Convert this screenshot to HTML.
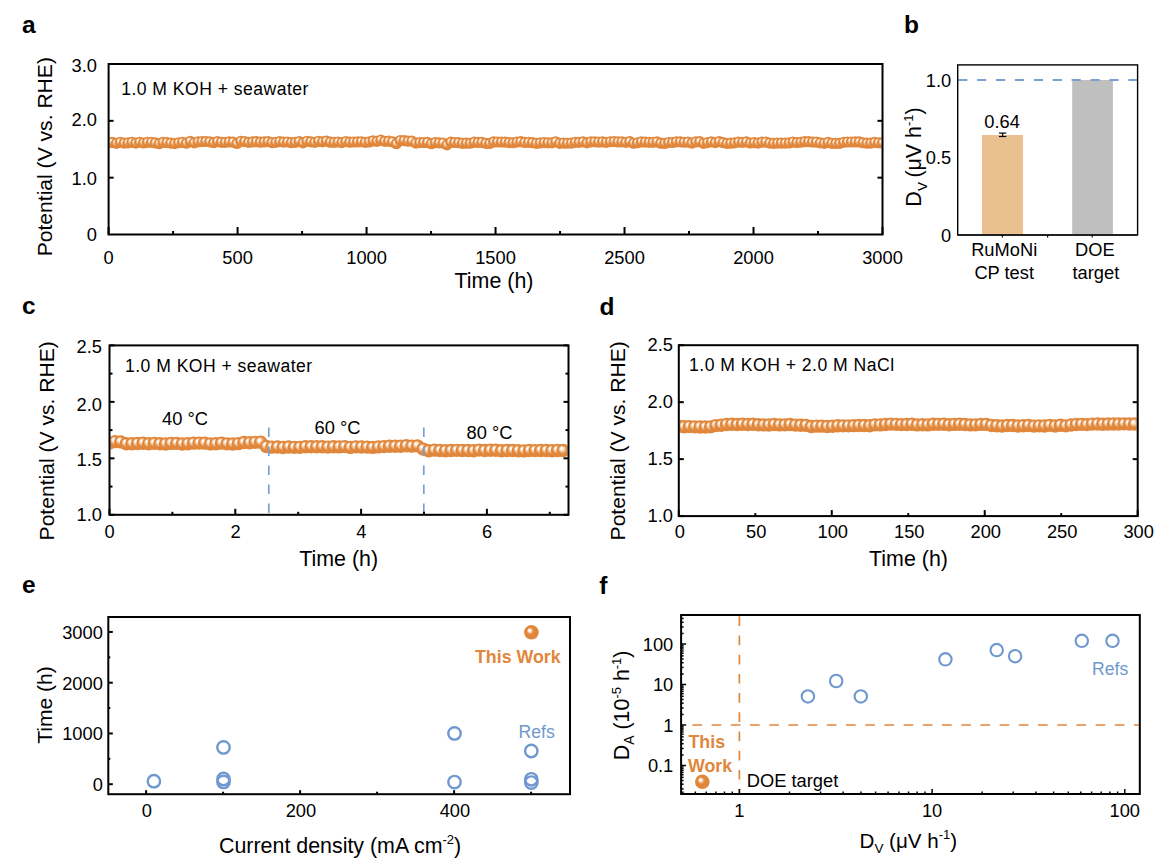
<!DOCTYPE html>
<html><head><meta charset="utf-8"><title>Figure</title>
<style>
html,body{margin:0;padding:0;background:#fff;width:1169px;height:866px;overflow:hidden;}
svg{display:block;font-family:"Liberation Sans", sans-serif;}
</style></head><body>
<svg width="1169" height="866" viewBox="0 0 1169 866">
<rect width="1169" height="866" fill="#fff"/>
<defs><radialGradient id="ball" cx="0.5" cy="0.5" r="0.5" fx="0.37" fy="0.31"><stop offset="0" stop-color="#fff"/><stop offset="0.1" stop-color="#fff"/><stop offset="0.36" stop-color="#f5cfaa"/><stop offset="0.64" stop-color="#E0873C"/><stop offset="1" stop-color="#E0873C"/></radialGradient><radialGradient id="bigball" cx="0.5" cy="0.5" r="0.5" fx="0.35" fy="0.345"><stop offset="0" stop-color="#fff"/><stop offset="0.08" stop-color="#fff"/><stop offset="0.25" stop-color="#f6d8bc"/><stop offset="0.42" stop-color="#e4914d"/><stop offset="0.55" stop-color="#E0873C"/><stop offset="1" stop-color="#E0873C"/></radialGradient></defs>
<clipPath id="cp1"><rect x="109.60" y="64.00" width="771.90" height="170.50"/></clipPath>
<g clip-path="url(#cp1)">
<circle cx="108.60" cy="142.78" r="5.6" fill="url(#ball)"/>
<circle cx="112.49" cy="142.47" r="5.6" fill="url(#ball)"/>
<circle cx="116.38" cy="143.37" r="5.6" fill="url(#ball)"/>
<circle cx="120.27" cy="142.33" r="5.6" fill="url(#ball)"/>
<circle cx="124.16" cy="143.16" r="5.6" fill="url(#ball)"/>
<circle cx="128.04" cy="142.86" r="5.6" fill="url(#ball)"/>
<circle cx="131.93" cy="142.30" r="5.6" fill="url(#ball)"/>
<circle cx="135.82" cy="143.11" r="5.6" fill="url(#ball)"/>
<circle cx="139.71" cy="142.27" r="5.6" fill="url(#ball)"/>
<circle cx="143.60" cy="142.98" r="5.6" fill="url(#ball)"/>
<circle cx="147.49" cy="142.33" r="5.6" fill="url(#ball)"/>
<circle cx="151.38" cy="142.36" r="5.6" fill="url(#ball)"/>
<circle cx="155.27" cy="142.96" r="5.6" fill="url(#ball)"/>
<circle cx="159.16" cy="143.69" r="5.6" fill="url(#ball)"/>
<circle cx="163.05" cy="142.42" r="5.6" fill="url(#ball)"/>
<circle cx="166.93" cy="142.53" r="5.6" fill="url(#ball)"/>
<circle cx="170.82" cy="143.12" r="5.6" fill="url(#ball)"/>
<circle cx="174.71" cy="143.56" r="5.6" fill="url(#ball)"/>
<circle cx="178.60" cy="142.75" r="5.6" fill="url(#ball)"/>
<circle cx="182.49" cy="142.28" r="5.6" fill="url(#ball)"/>
<circle cx="186.38" cy="143.19" r="5.6" fill="url(#ball)"/>
<circle cx="190.27" cy="141.38" r="5.6" fill="url(#ball)"/>
<circle cx="194.16" cy="142.84" r="5.6" fill="url(#ball)"/>
<circle cx="198.05" cy="141.80" r="5.6" fill="url(#ball)"/>
<circle cx="201.93" cy="141.53" r="5.6" fill="url(#ball)"/>
<circle cx="205.82" cy="141.48" r="5.6" fill="url(#ball)"/>
<circle cx="209.71" cy="141.81" r="5.6" fill="url(#ball)"/>
<circle cx="213.60" cy="142.72" r="5.6" fill="url(#ball)"/>
<circle cx="217.49" cy="141.56" r="5.6" fill="url(#ball)"/>
<circle cx="221.38" cy="142.28" r="5.6" fill="url(#ball)"/>
<circle cx="225.27" cy="142.37" r="5.6" fill="url(#ball)"/>
<circle cx="229.16" cy="141.88" r="5.6" fill="url(#ball)"/>
<circle cx="233.05" cy="142.19" r="5.6" fill="url(#ball)"/>
<circle cx="236.94" cy="143.51" r="5.6" fill="url(#ball)"/>
<circle cx="240.82" cy="141.29" r="5.6" fill="url(#ball)"/>
<circle cx="244.71" cy="141.55" r="5.6" fill="url(#ball)"/>
<circle cx="248.60" cy="142.39" r="5.6" fill="url(#ball)"/>
<circle cx="252.49" cy="141.93" r="5.6" fill="url(#ball)"/>
<circle cx="256.38" cy="141.71" r="5.6" fill="url(#ball)"/>
<circle cx="260.27" cy="142.19" r="5.6" fill="url(#ball)"/>
<circle cx="264.16" cy="141.95" r="5.6" fill="url(#ball)"/>
<circle cx="268.05" cy="141.66" r="5.6" fill="url(#ball)"/>
<circle cx="271.94" cy="142.54" r="5.6" fill="url(#ball)"/>
<circle cx="275.82" cy="142.36" r="5.6" fill="url(#ball)"/>
<circle cx="279.71" cy="141.53" r="5.6" fill="url(#ball)"/>
<circle cx="283.60" cy="142.12" r="5.6" fill="url(#ball)"/>
<circle cx="287.49" cy="142.02" r="5.6" fill="url(#ball)"/>
<circle cx="291.38" cy="142.64" r="5.6" fill="url(#ball)"/>
<circle cx="295.27" cy="142.37" r="5.6" fill="url(#ball)"/>
<circle cx="299.16" cy="141.57" r="5.6" fill="url(#ball)"/>
<circle cx="303.05" cy="142.81" r="5.6" fill="url(#ball)"/>
<circle cx="306.94" cy="141.25" r="5.6" fill="url(#ball)"/>
<circle cx="310.83" cy="141.78" r="5.6" fill="url(#ball)"/>
<circle cx="314.71" cy="142.38" r="5.6" fill="url(#ball)"/>
<circle cx="318.60" cy="141.28" r="5.6" fill="url(#ball)"/>
<circle cx="322.49" cy="141.88" r="5.6" fill="url(#ball)"/>
<circle cx="326.38" cy="141.06" r="5.6" fill="url(#ball)"/>
<circle cx="330.27" cy="142.18" r="5.6" fill="url(#ball)"/>
<circle cx="334.16" cy="142.35" r="5.6" fill="url(#ball)"/>
<circle cx="338.05" cy="141.99" r="5.6" fill="url(#ball)"/>
<circle cx="341.94" cy="142.53" r="5.6" fill="url(#ball)"/>
<circle cx="345.83" cy="141.51" r="5.6" fill="url(#ball)"/>
<circle cx="349.71" cy="142.19" r="5.6" fill="url(#ball)"/>
<circle cx="353.60" cy="142.00" r="5.6" fill="url(#ball)"/>
<circle cx="357.49" cy="141.96" r="5.6" fill="url(#ball)"/>
<circle cx="361.38" cy="141.73" r="5.6" fill="url(#ball)"/>
<circle cx="365.27" cy="142.37" r="5.6" fill="url(#ball)"/>
<circle cx="369.16" cy="141.93" r="5.6" fill="url(#ball)"/>
<circle cx="373.05" cy="140.95" r="5.6" fill="url(#ball)"/>
<circle cx="376.94" cy="141.28" r="5.6" fill="url(#ball)"/>
<circle cx="380.83" cy="140.18" r="5.6" fill="url(#ball)"/>
<circle cx="384.72" cy="141.33" r="5.6" fill="url(#ball)"/>
<circle cx="388.60" cy="141.22" r="5.6" fill="url(#ball)"/>
<circle cx="392.49" cy="141.83" r="5.6" fill="url(#ball)"/>
<circle cx="396.38" cy="143.71" r="5.6" fill="url(#ball)"/>
<circle cx="400.27" cy="140.54" r="5.6" fill="url(#ball)"/>
<circle cx="404.16" cy="140.71" r="5.6" fill="url(#ball)"/>
<circle cx="408.05" cy="141.21" r="5.6" fill="url(#ball)"/>
<circle cx="411.94" cy="141.15" r="5.6" fill="url(#ball)"/>
<circle cx="415.83" cy="143.14" r="5.6" fill="url(#ball)"/>
<circle cx="419.72" cy="142.62" r="5.6" fill="url(#ball)"/>
<circle cx="423.60" cy="142.54" r="5.6" fill="url(#ball)"/>
<circle cx="427.49" cy="142.45" r="5.6" fill="url(#ball)"/>
<circle cx="431.38" cy="143.74" r="5.6" fill="url(#ball)"/>
<circle cx="435.27" cy="142.61" r="5.6" fill="url(#ball)"/>
<circle cx="439.16" cy="142.83" r="5.6" fill="url(#ball)"/>
<circle cx="443.05" cy="143.11" r="5.6" fill="url(#ball)"/>
<circle cx="446.94" cy="144.85" r="5.6" fill="url(#ball)"/>
<circle cx="450.83" cy="142.22" r="5.6" fill="url(#ball)"/>
<circle cx="454.72" cy="142.51" r="5.6" fill="url(#ball)"/>
<circle cx="458.61" cy="142.69" r="5.6" fill="url(#ball)"/>
<circle cx="462.49" cy="143.29" r="5.6" fill="url(#ball)"/>
<circle cx="466.38" cy="143.17" r="5.6" fill="url(#ball)"/>
<circle cx="470.27" cy="143.25" r="5.6" fill="url(#ball)"/>
<circle cx="474.16" cy="142.20" r="5.6" fill="url(#ball)"/>
<circle cx="478.05" cy="142.44" r="5.6" fill="url(#ball)"/>
<circle cx="481.94" cy="142.34" r="5.6" fill="url(#ball)"/>
<circle cx="485.83" cy="143.28" r="5.6" fill="url(#ball)"/>
<circle cx="489.72" cy="143.42" r="5.6" fill="url(#ball)"/>
<circle cx="493.61" cy="141.96" r="5.6" fill="url(#ball)"/>
<circle cx="497.49" cy="142.01" r="5.6" fill="url(#ball)"/>
<circle cx="501.38" cy="142.11" r="5.6" fill="url(#ball)"/>
<circle cx="505.27" cy="142.11" r="5.6" fill="url(#ball)"/>
<circle cx="509.16" cy="142.56" r="5.6" fill="url(#ball)"/>
<circle cx="513.05" cy="142.75" r="5.6" fill="url(#ball)"/>
<circle cx="516.94" cy="142.16" r="5.6" fill="url(#ball)"/>
<circle cx="520.83" cy="141.69" r="5.6" fill="url(#ball)"/>
<circle cx="524.72" cy="142.44" r="5.6" fill="url(#ball)"/>
<circle cx="528.61" cy="142.35" r="5.6" fill="url(#ball)"/>
<circle cx="532.49" cy="142.70" r="5.6" fill="url(#ball)"/>
<circle cx="536.38" cy="143.40" r="5.6" fill="url(#ball)"/>
<circle cx="540.27" cy="142.92" r="5.6" fill="url(#ball)"/>
<circle cx="544.16" cy="142.61" r="5.6" fill="url(#ball)"/>
<circle cx="548.05" cy="142.79" r="5.6" fill="url(#ball)"/>
<circle cx="551.94" cy="142.89" r="5.6" fill="url(#ball)"/>
<circle cx="555.83" cy="141.77" r="5.6" fill="url(#ball)"/>
<circle cx="559.72" cy="143.29" r="5.6" fill="url(#ball)"/>
<circle cx="563.61" cy="143.08" r="5.6" fill="url(#ball)"/>
<circle cx="567.50" cy="143.25" r="5.6" fill="url(#ball)"/>
<circle cx="571.38" cy="143.11" r="5.6" fill="url(#ball)"/>
<circle cx="575.27" cy="142.38" r="5.6" fill="url(#ball)"/>
<circle cx="579.16" cy="142.39" r="5.6" fill="url(#ball)"/>
<circle cx="583.05" cy="141.86" r="5.6" fill="url(#ball)"/>
<circle cx="586.94" cy="142.81" r="5.6" fill="url(#ball)"/>
<circle cx="590.83" cy="141.78" r="5.6" fill="url(#ball)"/>
<circle cx="594.72" cy="141.79" r="5.6" fill="url(#ball)"/>
<circle cx="598.61" cy="142.04" r="5.6" fill="url(#ball)"/>
<circle cx="602.50" cy="141.96" r="5.6" fill="url(#ball)"/>
<circle cx="606.38" cy="142.28" r="5.6" fill="url(#ball)"/>
<circle cx="610.27" cy="141.76" r="5.6" fill="url(#ball)"/>
<circle cx="614.16" cy="141.66" r="5.6" fill="url(#ball)"/>
<circle cx="618.05" cy="141.93" r="5.6" fill="url(#ball)"/>
<circle cx="621.94" cy="141.84" r="5.6" fill="url(#ball)"/>
<circle cx="625.83" cy="142.31" r="5.6" fill="url(#ball)"/>
<circle cx="629.72" cy="141.70" r="5.6" fill="url(#ball)"/>
<circle cx="633.61" cy="143.23" r="5.6" fill="url(#ball)"/>
<circle cx="637.50" cy="142.76" r="5.6" fill="url(#ball)"/>
<circle cx="641.39" cy="141.92" r="5.6" fill="url(#ball)"/>
<circle cx="645.27" cy="142.11" r="5.6" fill="url(#ball)"/>
<circle cx="649.16" cy="142.28" r="5.6" fill="url(#ball)"/>
<circle cx="653.05" cy="142.31" r="5.6" fill="url(#ball)"/>
<circle cx="656.94" cy="141.87" r="5.6" fill="url(#ball)"/>
<circle cx="660.83" cy="143.18" r="5.6" fill="url(#ball)"/>
<circle cx="664.72" cy="143.44" r="5.6" fill="url(#ball)"/>
<circle cx="668.61" cy="142.49" r="5.6" fill="url(#ball)"/>
<circle cx="672.50" cy="142.52" r="5.6" fill="url(#ball)"/>
<circle cx="676.39" cy="141.80" r="5.6" fill="url(#ball)"/>
<circle cx="680.27" cy="141.83" r="5.6" fill="url(#ball)"/>
<circle cx="684.16" cy="142.26" r="5.6" fill="url(#ball)"/>
<circle cx="688.05" cy="142.12" r="5.6" fill="url(#ball)"/>
<circle cx="691.94" cy="143.14" r="5.6" fill="url(#ball)"/>
<circle cx="695.83" cy="141.93" r="5.6" fill="url(#ball)"/>
<circle cx="699.72" cy="141.68" r="5.6" fill="url(#ball)"/>
<circle cx="703.61" cy="143.35" r="5.6" fill="url(#ball)"/>
<circle cx="707.50" cy="142.59" r="5.6" fill="url(#ball)"/>
<circle cx="711.39" cy="141.90" r="5.6" fill="url(#ball)"/>
<circle cx="715.28" cy="142.62" r="5.6" fill="url(#ball)"/>
<circle cx="719.16" cy="141.69" r="5.6" fill="url(#ball)"/>
<circle cx="723.05" cy="142.59" r="5.6" fill="url(#ball)"/>
<circle cx="726.94" cy="143.40" r="5.6" fill="url(#ball)"/>
<circle cx="730.83" cy="143.19" r="5.6" fill="url(#ball)"/>
<circle cx="734.72" cy="142.89" r="5.6" fill="url(#ball)"/>
<circle cx="738.61" cy="142.10" r="5.6" fill="url(#ball)"/>
<circle cx="742.50" cy="142.29" r="5.6" fill="url(#ball)"/>
<circle cx="746.39" cy="141.93" r="5.6" fill="url(#ball)"/>
<circle cx="750.28" cy="143.02" r="5.6" fill="url(#ball)"/>
<circle cx="754.16" cy="142.59" r="5.6" fill="url(#ball)"/>
<circle cx="758.05" cy="143.03" r="5.6" fill="url(#ball)"/>
<circle cx="761.94" cy="142.22" r="5.6" fill="url(#ball)"/>
<circle cx="765.83" cy="142.03" r="5.6" fill="url(#ball)"/>
<circle cx="769.72" cy="143.09" r="5.6" fill="url(#ball)"/>
<circle cx="773.61" cy="143.40" r="5.6" fill="url(#ball)"/>
<circle cx="777.50" cy="143.16" r="5.6" fill="url(#ball)"/>
<circle cx="781.39" cy="143.07" r="5.6" fill="url(#ball)"/>
<circle cx="785.28" cy="143.10" r="5.6" fill="url(#ball)"/>
<circle cx="789.17" cy="142.95" r="5.6" fill="url(#ball)"/>
<circle cx="793.05" cy="142.03" r="5.6" fill="url(#ball)"/>
<circle cx="796.94" cy="142.55" r="5.6" fill="url(#ball)"/>
<circle cx="800.83" cy="142.26" r="5.6" fill="url(#ball)"/>
<circle cx="804.72" cy="141.67" r="5.6" fill="url(#ball)"/>
<circle cx="808.61" cy="141.67" r="5.6" fill="url(#ball)"/>
<circle cx="812.50" cy="142.12" r="5.6" fill="url(#ball)"/>
<circle cx="816.39" cy="142.08" r="5.6" fill="url(#ball)"/>
<circle cx="820.28" cy="142.86" r="5.6" fill="url(#ball)"/>
<circle cx="824.17" cy="143.34" r="5.6" fill="url(#ball)"/>
<circle cx="828.05" cy="142.42" r="5.6" fill="url(#ball)"/>
<circle cx="831.94" cy="143.30" r="5.6" fill="url(#ball)"/>
<circle cx="835.83" cy="143.39" r="5.6" fill="url(#ball)"/>
<circle cx="839.72" cy="143.33" r="5.6" fill="url(#ball)"/>
<circle cx="843.61" cy="142.27" r="5.6" fill="url(#ball)"/>
<circle cx="847.50" cy="142.00" r="5.6" fill="url(#ball)"/>
<circle cx="851.39" cy="142.02" r="5.6" fill="url(#ball)"/>
<circle cx="855.28" cy="141.96" r="5.6" fill="url(#ball)"/>
<circle cx="859.17" cy="141.97" r="5.6" fill="url(#ball)"/>
<circle cx="863.06" cy="142.73" r="5.6" fill="url(#ball)"/>
<circle cx="866.94" cy="143.22" r="5.6" fill="url(#ball)"/>
<circle cx="870.83" cy="143.12" r="5.6" fill="url(#ball)"/>
<circle cx="874.72" cy="142.46" r="5.6" fill="url(#ball)"/>
<circle cx="878.61" cy="142.78" r="5.6" fill="url(#ball)"/>
<circle cx="882.50" cy="143.04" r="5.6" fill="url(#ball)"/>
</g>
<rect x="108.60" y="64.00" width="773.90" height="170.50" fill="none" stroke="#000" stroke-width="2"/>
<line x1="108.60" y1="177.67" x2="113.60" y2="177.67" stroke="#000" stroke-width="2" />
<line x1="882.50" y1="177.67" x2="877.50" y2="177.67" stroke="#000" stroke-width="2" />
<line x1="108.60" y1="120.83" x2="113.60" y2="120.83" stroke="#000" stroke-width="2" />
<line x1="882.50" y1="120.83" x2="877.50" y2="120.83" stroke="#000" stroke-width="2" />
<line x1="108.60" y1="234.50" x2="108.60" y2="227.00" stroke="#000" stroke-width="2" />
<line x1="173.09" y1="234.50" x2="173.09" y2="231.00" stroke="#000" stroke-width="2" />
<line x1="237.58" y1="234.50" x2="237.58" y2="227.00" stroke="#000" stroke-width="2" />
<line x1="302.07" y1="234.50" x2="302.07" y2="231.00" stroke="#000" stroke-width="2" />
<line x1="366.57" y1="234.50" x2="366.57" y2="227.00" stroke="#000" stroke-width="2" />
<line x1="431.06" y1="234.50" x2="431.06" y2="231.00" stroke="#000" stroke-width="2" />
<line x1="495.55" y1="234.50" x2="495.55" y2="227.00" stroke="#000" stroke-width="2" />
<line x1="560.04" y1="234.50" x2="560.04" y2="231.00" stroke="#000" stroke-width="2" />
<line x1="624.53" y1="234.50" x2="624.53" y2="227.00" stroke="#000" stroke-width="2" />
<line x1="689.02" y1="234.50" x2="689.02" y2="231.00" stroke="#000" stroke-width="2" />
<line x1="753.52" y1="234.50" x2="753.52" y2="227.00" stroke="#000" stroke-width="2" />
<line x1="818.01" y1="234.50" x2="818.01" y2="231.00" stroke="#000" stroke-width="2" />
<line x1="882.50" y1="234.50" x2="882.50" y2="227.00" stroke="#000" stroke-width="2" />
<text x="108.60" y="264.00" font-size="18.3" text-anchor="middle" font-weight="normal" fill="#000" >0</text>
<text x="237.58" y="264.00" font-size="18.3" text-anchor="middle" font-weight="normal" fill="#000" >500</text>
<text x="366.57" y="264.00" font-size="18.3" text-anchor="middle" font-weight="normal" fill="#000" >1000</text>
<text x="495.55" y="264.00" font-size="18.3" text-anchor="middle" font-weight="normal" fill="#000" >1500</text>
<text x="624.53" y="264.00" font-size="18.3" text-anchor="middle" font-weight="normal" fill="#000" >2500</text>
<text x="753.52" y="264.00" font-size="18.3" text-anchor="middle" font-weight="normal" fill="#000" >2000</text>
<text x="882.50" y="264.00" font-size="18.3" text-anchor="middle" font-weight="normal" fill="#000" >3000</text>
<text x="97.00" y="241.00" font-size="18.3" text-anchor="end" font-weight="normal" fill="#000" >0</text>
<text x="97.00" y="184.60" font-size="18.3" text-anchor="end" font-weight="normal" fill="#000" >1.0</text>
<text x="97.00" y="126.20" font-size="18.3" text-anchor="end" font-weight="normal" fill="#000" >2.0</text>
<text x="97.00" y="71.80" font-size="18.3" text-anchor="end" font-weight="normal" fill="#000" >3.0</text>
<text x="121.20" y="94.60" font-size="17.6" text-anchor="start" font-weight="normal" fill="#000" letter-spacing="0.46">1.0 M KOH + seawater</text>
<text x="494.00" y="288.10" font-size="21.4" text-anchor="middle" font-weight="normal" fill="#000" >Time (h)</text>
<text transform="translate(52.00,156.70) rotate(-90)" x="0" y="0" font-size="21.1" text-anchor="middle" fill="#000">Potential (V vs. RHE)</text>
<text x="22.00" y="32.60" font-size="24.5" text-anchor="start" font-weight="bold" fill="#000" >a</text>
<rect x="982" y="134.99" width="41" height="99.91" fill="#EBC08F"/>
<rect x="1072.2" y="80" width="40.7" height="154.90" fill="#BFBFBF"/>
<line x1="958.20" y1="80.00" x2="1137.00" y2="80.00" stroke="#7AA0D2" stroke-width="1.8" stroke-dasharray="9.2 9.7"/>
<line x1="1002.60" y1="133.10" x2="1002.60" y2="136.50" stroke="#000" stroke-width="1.2" />
<line x1="999.00" y1="133.10" x2="1006.30" y2="133.10" stroke="#000" stroke-width="1.2" />
<line x1="999.00" y1="136.50" x2="1006.30" y2="136.50" stroke="#000" stroke-width="1.2" />
<rect x="957.70" y="64.90" width="179.90" height="170.00" fill="none" stroke="#000" stroke-width="1.4"/>
<line x1="957.70" y1="234.90" x2="1137.60" y2="234.90" stroke="#222" stroke-width="2" />
<line x1="1002.40" y1="234.90" x2="1002.40" y2="237.40" stroke="#000" stroke-width="1.2" />
<line x1="1047.60" y1="234.90" x2="1047.60" y2="237.40" stroke="#000" stroke-width="1.2" />
<line x1="1092.20" y1="234.90" x2="1092.20" y2="237.40" stroke="#000" stroke-width="1.2" />
<text x="1002.10" y="127.80" font-size="18.3" text-anchor="middle" font-weight="normal" fill="#000" >0.64</text>
<text x="951.20" y="241.60" font-size="18.3" text-anchor="end" font-weight="normal" fill="#000" >0</text>
<text x="951.20" y="164.15" font-size="18.3" text-anchor="end" font-weight="normal" fill="#000" >0.5</text>
<text x="951.20" y="86.70" font-size="18.3" text-anchor="end" font-weight="normal" fill="#000" >1.0</text>
<text x="1004.20" y="255.90" font-size="18.3" text-anchor="middle" font-weight="normal" fill="#000" >RuMoNi</text>
<text x="1004.20" y="278.70" font-size="18.3" text-anchor="middle" font-weight="normal" fill="#000" >CP test</text>
<text x="1094.90" y="255.90" font-size="18.3" text-anchor="middle" font-weight="normal" fill="#000" >DOE</text>
<text x="1095.90" y="278.70" font-size="18.3" text-anchor="middle" font-weight="normal" fill="#000" >target</text>
<text transform="translate(921.2,204.7) rotate(-90)" font-size="21.4" text-anchor="start" x="-2.0">D<tspan font-size="13.5" dy="6" dx="0.3">V</tspan><tspan dy="-6" dx="-1.6"> (μV h</tspan><tspan font-size="13" dy="-8.5">-1</tspan><tspan dy="8.5">)</tspan></text>
<text x="904.00" y="32.60" font-size="24.5" text-anchor="start" font-weight="bold" fill="#000" >b</text>
<clipPath id="cp258"><rect x="110.50" y="345.40" width="457.00" height="169.40"/></clipPath>
<g clip-path="url(#cp258)">
<circle cx="109.50" cy="443.08" r="6.7" fill="url(#ball)"/>
<circle cx="115.10" cy="441.66" r="6.7" fill="url(#ball)"/>
<circle cx="120.70" cy="441.91" r="6.7" fill="url(#ball)"/>
<circle cx="126.30" cy="443.78" r="6.7" fill="url(#ball)"/>
<circle cx="131.90" cy="443.75" r="6.7" fill="url(#ball)"/>
<circle cx="137.50" cy="443.48" r="6.7" fill="url(#ball)"/>
<circle cx="143.10" cy="443.18" r="6.7" fill="url(#ball)"/>
<circle cx="148.70" cy="443.79" r="6.7" fill="url(#ball)"/>
<circle cx="154.30" cy="443.33" r="6.7" fill="url(#ball)"/>
<circle cx="159.90" cy="443.80" r="6.7" fill="url(#ball)"/>
<circle cx="165.50" cy="443.97" r="6.7" fill="url(#ball)"/>
<circle cx="171.10" cy="443.40" r="6.7" fill="url(#ball)"/>
<circle cx="176.70" cy="443.40" r="6.7" fill="url(#ball)"/>
<circle cx="182.30" cy="443.95" r="6.7" fill="url(#ball)"/>
<circle cx="187.90" cy="443.72" r="6.7" fill="url(#ball)"/>
<circle cx="193.50" cy="443.17" r="6.7" fill="url(#ball)"/>
<circle cx="199.10" cy="443.13" r="6.7" fill="url(#ball)"/>
<circle cx="204.70" cy="443.15" r="6.7" fill="url(#ball)"/>
<circle cx="210.30" cy="443.90" r="6.7" fill="url(#ball)"/>
<circle cx="215.90" cy="443.81" r="6.7" fill="url(#ball)"/>
<circle cx="221.50" cy="443.15" r="6.7" fill="url(#ball)"/>
<circle cx="227.10" cy="443.83" r="6.7" fill="url(#ball)"/>
<circle cx="232.70" cy="443.98" r="6.7" fill="url(#ball)"/>
<circle cx="238.30" cy="443.66" r="6.7" fill="url(#ball)"/>
<circle cx="243.90" cy="442.55" r="6.7" fill="url(#ball)"/>
<circle cx="249.50" cy="442.75" r="6.7" fill="url(#ball)"/>
<circle cx="255.10" cy="442.33" r="6.7" fill="url(#ball)"/>
<circle cx="260.70" cy="442.21" r="6.7" fill="url(#ball)"/>
<circle cx="266.30" cy="446.48" r="6.7" fill="url(#ball)"/>
<circle cx="271.90" cy="447.15" r="6.7" fill="url(#ball)"/>
<circle cx="277.50" cy="447.03" r="6.7" fill="url(#ball)"/>
<circle cx="283.10" cy="447.43" r="6.7" fill="url(#ball)"/>
<circle cx="288.70" cy="446.93" r="6.7" fill="url(#ball)"/>
<circle cx="294.30" cy="447.37" r="6.7" fill="url(#ball)"/>
<circle cx="299.90" cy="447.33" r="6.7" fill="url(#ball)"/>
<circle cx="305.50" cy="446.71" r="6.7" fill="url(#ball)"/>
<circle cx="311.10" cy="446.75" r="6.7" fill="url(#ball)"/>
<circle cx="316.70" cy="446.79" r="6.7" fill="url(#ball)"/>
<circle cx="322.30" cy="446.74" r="6.7" fill="url(#ball)"/>
<circle cx="327.90" cy="447.09" r="6.7" fill="url(#ball)"/>
<circle cx="333.50" cy="446.76" r="6.7" fill="url(#ball)"/>
<circle cx="339.10" cy="446.92" r="6.7" fill="url(#ball)"/>
<circle cx="344.70" cy="446.63" r="6.7" fill="url(#ball)"/>
<circle cx="350.30" cy="447.41" r="6.7" fill="url(#ball)"/>
<circle cx="355.90" cy="446.85" r="6.7" fill="url(#ball)"/>
<circle cx="361.50" cy="446.96" r="6.7" fill="url(#ball)"/>
<circle cx="367.10" cy="447.08" r="6.7" fill="url(#ball)"/>
<circle cx="372.70" cy="447.40" r="6.7" fill="url(#ball)"/>
<circle cx="378.30" cy="446.92" r="6.7" fill="url(#ball)"/>
<circle cx="383.90" cy="446.62" r="6.7" fill="url(#ball)"/>
<circle cx="389.50" cy="446.20" r="6.7" fill="url(#ball)"/>
<circle cx="395.10" cy="446.23" r="6.7" fill="url(#ball)"/>
<circle cx="400.70" cy="446.22" r="6.7" fill="url(#ball)"/>
<circle cx="406.30" cy="445.72" r="6.7" fill="url(#ball)"/>
<circle cx="411.90" cy="446.14" r="6.7" fill="url(#ball)"/>
<circle cx="417.50" cy="445.88" r="6.7" fill="url(#ball)"/>
<circle cx="423.10" cy="449.10" r="6.7" fill="url(#ball)"/>
<circle cx="428.70" cy="450.80" r="6.7" fill="url(#ball)"/>
<circle cx="434.30" cy="450.17" r="6.7" fill="url(#ball)"/>
<circle cx="439.90" cy="450.47" r="6.7" fill="url(#ball)"/>
<circle cx="445.50" cy="450.73" r="6.7" fill="url(#ball)"/>
<circle cx="451.10" cy="450.56" r="6.7" fill="url(#ball)"/>
<circle cx="456.70" cy="450.33" r="6.7" fill="url(#ball)"/>
<circle cx="462.30" cy="450.52" r="6.7" fill="url(#ball)"/>
<circle cx="467.90" cy="450.56" r="6.7" fill="url(#ball)"/>
<circle cx="473.50" cy="450.78" r="6.7" fill="url(#ball)"/>
<circle cx="479.10" cy="450.11" r="6.7" fill="url(#ball)"/>
<circle cx="484.70" cy="450.56" r="6.7" fill="url(#ball)"/>
<circle cx="490.30" cy="450.25" r="6.7" fill="url(#ball)"/>
<circle cx="495.90" cy="450.28" r="6.7" fill="url(#ball)"/>
<circle cx="501.50" cy="450.77" r="6.7" fill="url(#ball)"/>
<circle cx="507.10" cy="450.51" r="6.7" fill="url(#ball)"/>
<circle cx="512.70" cy="450.56" r="6.7" fill="url(#ball)"/>
<circle cx="518.30" cy="450.76" r="6.7" fill="url(#ball)"/>
<circle cx="523.90" cy="450.91" r="6.7" fill="url(#ball)"/>
<circle cx="529.50" cy="450.44" r="6.7" fill="url(#ball)"/>
<circle cx="535.10" cy="450.61" r="6.7" fill="url(#ball)"/>
<circle cx="540.70" cy="450.51" r="6.7" fill="url(#ball)"/>
<circle cx="546.30" cy="450.51" r="6.7" fill="url(#ball)"/>
<circle cx="551.90" cy="450.69" r="6.7" fill="url(#ball)"/>
<circle cx="557.50" cy="450.45" r="6.7" fill="url(#ball)"/>
<circle cx="563.10" cy="450.53" r="6.7" fill="url(#ball)"/>
</g>
<line x1="268.80" y1="427.50" x2="268.80" y2="514.80" stroke="#7AA0D2" stroke-width="1.7" stroke-dasharray="9.4 9.6"/>
<line x1="423.80" y1="427.50" x2="423.80" y2="514.80" stroke="#7AA0D2" stroke-width="1.7" stroke-dasharray="9.4 9.6"/>
<rect x="109.50" y="345.40" width="459.00" height="169.40" fill="none" stroke="#000" stroke-width="2"/>
<line x1="109.50" y1="514.80" x2="114.50" y2="514.80" stroke="#000" stroke-width="2" />
<line x1="568.50" y1="514.80" x2="563.50" y2="514.80" stroke="#000" stroke-width="2" />
<line x1="109.50" y1="486.57" x2="112.50" y2="486.57" stroke="#000" stroke-width="2" />
<line x1="568.50" y1="486.57" x2="565.50" y2="486.57" stroke="#000" stroke-width="2" />
<line x1="109.50" y1="458.33" x2="114.50" y2="458.33" stroke="#000" stroke-width="2" />
<line x1="568.50" y1="458.33" x2="563.50" y2="458.33" stroke="#000" stroke-width="2" />
<line x1="109.50" y1="430.10" x2="112.50" y2="430.10" stroke="#000" stroke-width="2" />
<line x1="568.50" y1="430.10" x2="565.50" y2="430.10" stroke="#000" stroke-width="2" />
<line x1="109.50" y1="401.87" x2="114.50" y2="401.87" stroke="#000" stroke-width="2" />
<line x1="568.50" y1="401.87" x2="563.50" y2="401.87" stroke="#000" stroke-width="2" />
<line x1="109.50" y1="373.63" x2="112.50" y2="373.63" stroke="#000" stroke-width="2" />
<line x1="568.50" y1="373.63" x2="565.50" y2="373.63" stroke="#000" stroke-width="2" />
<line x1="109.50" y1="345.40" x2="114.50" y2="345.40" stroke="#000" stroke-width="2" />
<line x1="568.50" y1="345.40" x2="563.50" y2="345.40" stroke="#000" stroke-width="2" />
<line x1="109.50" y1="514.80" x2="109.50" y2="508.80" stroke="#000" stroke-width="2" />
<line x1="172.40" y1="514.80" x2="172.40" y2="511.80" stroke="#000" stroke-width="2" />
<line x1="235.30" y1="514.80" x2="235.30" y2="508.80" stroke="#000" stroke-width="2" />
<line x1="298.20" y1="514.80" x2="298.20" y2="511.80" stroke="#000" stroke-width="2" />
<line x1="361.10" y1="514.80" x2="361.10" y2="508.80" stroke="#000" stroke-width="2" />
<line x1="424.00" y1="514.80" x2="424.00" y2="511.80" stroke="#000" stroke-width="2" />
<line x1="486.90" y1="514.80" x2="486.90" y2="508.80" stroke="#000" stroke-width="2" />
<line x1="549.80" y1="514.80" x2="549.80" y2="511.80" stroke="#000" stroke-width="2" />
<text x="109.70" y="537.60" font-size="18.3" text-anchor="middle" font-weight="normal" fill="#000" >0</text>
<text x="235.50" y="537.60" font-size="18.3" text-anchor="middle" font-weight="normal" fill="#000" >2</text>
<text x="361.30" y="537.60" font-size="18.3" text-anchor="middle" font-weight="normal" fill="#000" >4</text>
<text x="487.10" y="537.60" font-size="18.3" text-anchor="middle" font-weight="normal" fill="#000" >6</text>
<text x="102.00" y="520.50" font-size="18.3" text-anchor="end" font-weight="normal" fill="#000" >1.0</text>
<text x="102.00" y="465.60" font-size="18.3" text-anchor="end" font-weight="normal" fill="#000" >1.5</text>
<text x="102.00" y="410.90" font-size="18.3" text-anchor="end" font-weight="normal" fill="#000" >2.0</text>
<text x="102.00" y="352.60" font-size="18.3" text-anchor="end" font-weight="normal" fill="#000" >2.5</text>
<text x="125.00" y="371.60" font-size="17.6" text-anchor="start" font-weight="normal" fill="#000" letter-spacing="0.46">1.0 M KOH + seawater</text>
<text x="162.00" y="425.40" font-size="18.3" text-anchor="start" font-weight="normal" fill="#000" >40 °C</text>
<text x="314.60" y="433.70" font-size="18.3" text-anchor="start" font-weight="normal" fill="#000" >60 °C</text>
<text x="466.60" y="439.10" font-size="18.3" text-anchor="start" font-weight="normal" fill="#000" >80 °C</text>
<text x="338.70" y="566.20" font-size="21.4" text-anchor="middle" font-weight="normal" fill="#000" >Time (h)</text>
<text transform="translate(54.00,440.80) rotate(-90)" x="0" y="0" font-size="21.1" text-anchor="middle" fill="#000">Potential (V vs. RHE)</text>
<text x="22.00" y="313.60" font-size="24.5" text-anchor="start" font-weight="bold" fill="#000" >c</text>
<clipPath id="cp383"><rect x="679.80" y="345.20" width="456.90" height="170.90"/></clipPath>
<g clip-path="url(#cp383)">
<circle cx="678.80" cy="426.29" r="6.7" fill="url(#ball)"/>
<circle cx="684.10" cy="426.74" r="6.7" fill="url(#ball)"/>
<circle cx="689.40" cy="426.61" r="6.7" fill="url(#ball)"/>
<circle cx="694.70" cy="426.83" r="6.7" fill="url(#ball)"/>
<circle cx="700.00" cy="426.95" r="6.7" fill="url(#ball)"/>
<circle cx="705.30" cy="427.07" r="6.7" fill="url(#ball)"/>
<circle cx="710.60" cy="426.87" r="6.7" fill="url(#ball)"/>
<circle cx="715.90" cy="425.58" r="6.7" fill="url(#ball)"/>
<circle cx="721.20" cy="425.25" r="6.7" fill="url(#ball)"/>
<circle cx="726.50" cy="424.46" r="6.7" fill="url(#ball)"/>
<circle cx="731.80" cy="424.30" r="6.7" fill="url(#ball)"/>
<circle cx="737.10" cy="424.57" r="6.7" fill="url(#ball)"/>
<circle cx="742.40" cy="424.29" r="6.7" fill="url(#ball)"/>
<circle cx="747.70" cy="424.44" r="6.7" fill="url(#ball)"/>
<circle cx="753.00" cy="424.32" r="6.7" fill="url(#ball)"/>
<circle cx="758.30" cy="424.82" r="6.7" fill="url(#ball)"/>
<circle cx="763.60" cy="424.92" r="6.7" fill="url(#ball)"/>
<circle cx="768.90" cy="425.03" r="6.7" fill="url(#ball)"/>
<circle cx="774.20" cy="424.45" r="6.7" fill="url(#ball)"/>
<circle cx="779.50" cy="424.91" r="6.7" fill="url(#ball)"/>
<circle cx="784.80" cy="424.88" r="6.7" fill="url(#ball)"/>
<circle cx="790.10" cy="424.49" r="6.7" fill="url(#ball)"/>
<circle cx="795.40" cy="425.09" r="6.7" fill="url(#ball)"/>
<circle cx="800.70" cy="425.26" r="6.7" fill="url(#ball)"/>
<circle cx="806.00" cy="425.33" r="6.7" fill="url(#ball)"/>
<circle cx="811.30" cy="426.57" r="6.7" fill="url(#ball)"/>
<circle cx="816.60" cy="426.16" r="6.7" fill="url(#ball)"/>
<circle cx="821.90" cy="426.17" r="6.7" fill="url(#ball)"/>
<circle cx="827.20" cy="426.51" r="6.7" fill="url(#ball)"/>
<circle cx="832.50" cy="426.32" r="6.7" fill="url(#ball)"/>
<circle cx="837.80" cy="425.72" r="6.7" fill="url(#ball)"/>
<circle cx="843.10" cy="425.87" r="6.7" fill="url(#ball)"/>
<circle cx="848.40" cy="425.87" r="6.7" fill="url(#ball)"/>
<circle cx="853.70" cy="425.67" r="6.7" fill="url(#ball)"/>
<circle cx="859.00" cy="425.49" r="6.7" fill="url(#ball)"/>
<circle cx="864.30" cy="425.52" r="6.7" fill="url(#ball)"/>
<circle cx="869.60" cy="425.78" r="6.7" fill="url(#ball)"/>
<circle cx="874.90" cy="424.86" r="6.7" fill="url(#ball)"/>
<circle cx="880.20" cy="424.90" r="6.7" fill="url(#ball)"/>
<circle cx="885.50" cy="424.45" r="6.7" fill="url(#ball)"/>
<circle cx="890.80" cy="424.12" r="6.7" fill="url(#ball)"/>
<circle cx="896.10" cy="424.38" r="6.7" fill="url(#ball)"/>
<circle cx="901.40" cy="424.62" r="6.7" fill="url(#ball)"/>
<circle cx="906.70" cy="424.53" r="6.7" fill="url(#ball)"/>
<circle cx="912.00" cy="424.18" r="6.7" fill="url(#ball)"/>
<circle cx="917.30" cy="424.92" r="6.7" fill="url(#ball)"/>
<circle cx="922.60" cy="424.77" r="6.7" fill="url(#ball)"/>
<circle cx="927.90" cy="424.92" r="6.7" fill="url(#ball)"/>
<circle cx="933.20" cy="424.23" r="6.7" fill="url(#ball)"/>
<circle cx="938.50" cy="424.37" r="6.7" fill="url(#ball)"/>
<circle cx="943.80" cy="424.19" r="6.7" fill="url(#ball)"/>
<circle cx="949.10" cy="424.79" r="6.7" fill="url(#ball)"/>
<circle cx="954.40" cy="424.39" r="6.7" fill="url(#ball)"/>
<circle cx="959.70" cy="424.28" r="6.7" fill="url(#ball)"/>
<circle cx="965.00" cy="424.52" r="6.7" fill="url(#ball)"/>
<circle cx="970.30" cy="424.91" r="6.7" fill="url(#ball)"/>
<circle cx="975.60" cy="424.85" r="6.7" fill="url(#ball)"/>
<circle cx="980.90" cy="424.40" r="6.7" fill="url(#ball)"/>
<circle cx="986.20" cy="424.42" r="6.7" fill="url(#ball)"/>
<circle cx="991.50" cy="425.50" r="6.7" fill="url(#ball)"/>
<circle cx="996.80" cy="425.68" r="6.7" fill="url(#ball)"/>
<circle cx="1002.10" cy="426.05" r="6.7" fill="url(#ball)"/>
<circle cx="1007.40" cy="425.54" r="6.7" fill="url(#ball)"/>
<circle cx="1012.70" cy="425.49" r="6.7" fill="url(#ball)"/>
<circle cx="1018.00" cy="425.97" r="6.7" fill="url(#ball)"/>
<circle cx="1023.30" cy="425.73" r="6.7" fill="url(#ball)"/>
<circle cx="1028.60" cy="425.43" r="6.7" fill="url(#ball)"/>
<circle cx="1033.90" cy="426.09" r="6.7" fill="url(#ball)"/>
<circle cx="1039.20" cy="425.83" r="6.7" fill="url(#ball)"/>
<circle cx="1044.50" cy="425.94" r="6.7" fill="url(#ball)"/>
<circle cx="1049.80" cy="425.34" r="6.7" fill="url(#ball)"/>
<circle cx="1055.10" cy="425.93" r="6.7" fill="url(#ball)"/>
<circle cx="1060.40" cy="425.27" r="6.7" fill="url(#ball)"/>
<circle cx="1065.70" cy="425.83" r="6.7" fill="url(#ball)"/>
<circle cx="1071.00" cy="425.04" r="6.7" fill="url(#ball)"/>
<circle cx="1076.30" cy="424.49" r="6.7" fill="url(#ball)"/>
<circle cx="1081.60" cy="424.34" r="6.7" fill="url(#ball)"/>
<circle cx="1086.90" cy="424.63" r="6.7" fill="url(#ball)"/>
<circle cx="1092.20" cy="424.09" r="6.7" fill="url(#ball)"/>
<circle cx="1097.50" cy="423.97" r="6.7" fill="url(#ball)"/>
<circle cx="1102.80" cy="424.28" r="6.7" fill="url(#ball)"/>
<circle cx="1108.10" cy="424.04" r="6.7" fill="url(#ball)"/>
<circle cx="1113.40" cy="423.93" r="6.7" fill="url(#ball)"/>
<circle cx="1118.70" cy="423.96" r="6.7" fill="url(#ball)"/>
<circle cx="1124.00" cy="423.87" r="6.7" fill="url(#ball)"/>
<circle cx="1129.30" cy="423.98" r="6.7" fill="url(#ball)"/>
<circle cx="1134.60" cy="424.06" r="6.7" fill="url(#ball)"/>
</g>
<rect x="678.80" y="345.20" width="458.90" height="170.90" fill="none" stroke="#000" stroke-width="2"/>
<line x1="678.80" y1="516.10" x2="683.80" y2="516.10" stroke="#000" stroke-width="2" />
<line x1="678.80" y1="459.13" x2="683.80" y2="459.13" stroke="#000" stroke-width="2" />
<line x1="678.80" y1="402.17" x2="683.80" y2="402.17" stroke="#000" stroke-width="2" />
<line x1="678.80" y1="345.20" x2="683.80" y2="345.20" stroke="#000" stroke-width="2" />
<line x1="1137.70" y1="459.13" x2="1132.70" y2="459.13" stroke="#000" stroke-width="2" />
<line x1="1137.70" y1="402.17" x2="1132.70" y2="402.17" stroke="#000" stroke-width="2" />
<line x1="678.80" y1="516.10" x2="678.80" y2="510.10" stroke="#000" stroke-width="2" />
<line x1="755.28" y1="516.10" x2="755.28" y2="513.10" stroke="#000" stroke-width="2" />
<line x1="831.77" y1="516.10" x2="831.77" y2="510.10" stroke="#000" stroke-width="2" />
<line x1="908.25" y1="516.10" x2="908.25" y2="513.10" stroke="#000" stroke-width="2" />
<line x1="984.73" y1="516.10" x2="984.73" y2="510.10" stroke="#000" stroke-width="2" />
<line x1="1061.22" y1="516.10" x2="1061.22" y2="513.10" stroke="#000" stroke-width="2" />
<line x1="1137.70" y1="516.10" x2="1137.70" y2="510.10" stroke="#000" stroke-width="2" />
<text x="679.80" y="537.50" font-size="18.3" text-anchor="middle" font-weight="normal" fill="#000" >0</text>
<text x="756.28" y="537.50" font-size="18.3" text-anchor="middle" font-weight="normal" fill="#000" >50</text>
<text x="832.77" y="537.50" font-size="18.3" text-anchor="middle" font-weight="normal" fill="#000" >100</text>
<text x="909.25" y="537.50" font-size="18.3" text-anchor="middle" font-weight="normal" fill="#000" >150</text>
<text x="985.73" y="537.50" font-size="18.3" text-anchor="middle" font-weight="normal" fill="#000" >200</text>
<text x="1062.22" y="537.50" font-size="18.3" text-anchor="middle" font-weight="normal" fill="#000" >250</text>
<text x="1138.70" y="537.50" font-size="18.3" text-anchor="middle" font-weight="normal" fill="#000" >300</text>
<text x="673.00" y="521.90" font-size="18.3" text-anchor="end" font-weight="normal" fill="#000" >1.0</text>
<text x="673.00" y="464.93" font-size="18.3" text-anchor="end" font-weight="normal" fill="#000" >1.5</text>
<text x="673.00" y="407.97" font-size="18.3" text-anchor="end" font-weight="normal" fill="#000" >2.0</text>
<text x="673.00" y="351.00" font-size="18.3" text-anchor="end" font-weight="normal" fill="#000" >2.5</text>
<text x="689.00" y="371.40" font-size="17.6" text-anchor="start" font-weight="normal" fill="#000" letter-spacing="0.48">1.0 M KOH + 2.0 M NaCl</text>
<text x="908.50" y="566.20" font-size="21.4" text-anchor="middle" font-weight="normal" fill="#000" >Time (h)</text>
<text transform="translate(625.00,440.80) rotate(-90)" x="0" y="0" font-size="21.1" text-anchor="middle" fill="#000">Potential (V vs. RHE)</text>
<text x="599.60" y="314.60" font-size="24.5" text-anchor="start" font-weight="bold" fill="#000" >d</text>
<rect x="108.30" y="617.00" width="461.70" height="177.20" fill="none" stroke="#000" stroke-width="2"/>
<line x1="108.30" y1="784.20" x2="112.80" y2="784.20" stroke="#000" stroke-width="2" />
<line x1="108.30" y1="758.83" x2="110.30" y2="758.83" stroke="#000" stroke-width="2" />
<line x1="108.30" y1="733.45" x2="112.80" y2="733.45" stroke="#000" stroke-width="2" />
<line x1="108.30" y1="708.08" x2="110.30" y2="708.08" stroke="#000" stroke-width="2" />
<line x1="108.30" y1="682.70" x2="112.80" y2="682.70" stroke="#000" stroke-width="2" />
<line x1="108.30" y1="657.33" x2="110.30" y2="657.33" stroke="#000" stroke-width="2" />
<line x1="108.30" y1="631.95" x2="112.80" y2="631.95" stroke="#000" stroke-width="2" />
<line x1="146.10" y1="794.20" x2="146.10" y2="790.20" stroke="#000" stroke-width="2" />
<line x1="223.10" y1="794.20" x2="223.10" y2="791.70" stroke="#000" stroke-width="2" />
<line x1="300.10" y1="794.20" x2="300.10" y2="790.20" stroke="#000" stroke-width="2" />
<line x1="377.10" y1="794.20" x2="377.10" y2="791.70" stroke="#000" stroke-width="2" />
<line x1="454.10" y1="794.20" x2="454.10" y2="790.20" stroke="#000" stroke-width="2" />
<line x1="531.10" y1="794.20" x2="531.10" y2="791.70" stroke="#000" stroke-width="2" />
<circle cx="153.9" cy="781.2" r="6.2" fill="none" stroke="#6F98CE" stroke-width="2.4"/>
<circle cx="223.5" cy="747.4" r="6.2" fill="none" stroke="#6F98CE" stroke-width="2.4"/>
<circle cx="223.5" cy="779.0" r="6.2" fill="none" stroke="#6F98CE" stroke-width="2.4"/>
<circle cx="223.5" cy="781.9" r="6.2" fill="none" stroke="#6F98CE" stroke-width="2.4"/>
<circle cx="454.5" cy="733.4" r="6.2" fill="none" stroke="#6F98CE" stroke-width="2.4"/>
<circle cx="454.5" cy="782.1" r="6.2" fill="none" stroke="#6F98CE" stroke-width="2.4"/>
<circle cx="531.3" cy="751.0" r="6.2" fill="none" stroke="#6F98CE" stroke-width="2.4"/>
<circle cx="531.3" cy="779.3" r="6.2" fill="none" stroke="#6F98CE" stroke-width="2.4"/>
<circle cx="531.3" cy="782.6" r="6.2" fill="none" stroke="#6F98CE" stroke-width="2.4"/>
<circle cx="531.4" cy="632.3" r="7.3" fill="url(#bigball)"/>
<text x="475.00" y="663.00" font-size="17.8" text-anchor="start" font-weight="bold" fill="#E0873C" >This Work</text>
<text x="518.50" y="738.00" font-size="17.6" text-anchor="start" font-weight="normal" fill="#6F98CE" >Refs</text>
<text x="146.90" y="816.70" font-size="18.3" text-anchor="middle" font-weight="normal" fill="#000" >0</text>
<text x="300.90" y="816.70" font-size="18.3" text-anchor="middle" font-weight="normal" fill="#000" >200</text>
<text x="454.90" y="816.70" font-size="18.3" text-anchor="middle" font-weight="normal" fill="#000" >400</text>
<text x="102.80" y="791.20" font-size="18.3" text-anchor="end" font-weight="normal" fill="#000" >0</text>
<text x="102.80" y="740.45" font-size="18.3" text-anchor="end" font-weight="normal" fill="#000" >1000</text>
<text x="102.80" y="689.70" font-size="18.3" text-anchor="end" font-weight="normal" fill="#000" >2000</text>
<text x="102.80" y="638.95" font-size="18.3" text-anchor="end" font-weight="normal" fill="#000" >3000</text>
<text x="219" y="852.7" font-size="21.4">Current density (mA cm<tspan font-size="13" dy="-8.5">-2</tspan><tspan dy="8.5">)</tspan></text>
<text transform="translate(52.00,705.00) rotate(-90)" x="0" y="0" font-size="21.1" text-anchor="middle" fill="#000">Time (h)</text>
<text x="22.00" y="593.00" font-size="24.5" text-anchor="start" font-weight="bold" fill="#000" >e</text>
<line x1="739.40" y1="615.00" x2="739.40" y2="794.00" stroke="#E0873C" stroke-width="1.7" stroke-dasharray="9.7 9.5" stroke-dashoffset="17.9"/>
<line x1="681.10" y1="725.00" x2="1139.80" y2="725.00" stroke="#E0873C" stroke-width="1.7" stroke-dasharray="9.7 9.5" stroke-dashoffset="7.9"/>
<rect x="681.10" y="615.00" width="458.70" height="179.00" fill="none" stroke="#000" stroke-width="2"/>
<line x1="681.10" y1="788.95" x2="683.60" y2="788.95" stroke="#000" stroke-width="1.5" />
<line x1="681.10" y1="784.20" x2="683.60" y2="784.20" stroke="#000" stroke-width="1.5" />
<line x1="681.10" y1="780.46" x2="683.60" y2="780.46" stroke="#000" stroke-width="1.5" />
<line x1="681.10" y1="777.37" x2="683.60" y2="777.37" stroke="#000" stroke-width="1.5" />
<line x1="681.10" y1="774.75" x2="683.60" y2="774.75" stroke="#000" stroke-width="1.5" />
<line x1="681.10" y1="772.47" x2="683.60" y2="772.47" stroke="#000" stroke-width="1.5" />
<line x1="681.10" y1="770.45" x2="683.60" y2="770.45" stroke="#000" stroke-width="1.5" />
<line x1="681.10" y1="768.64" x2="683.60" y2="768.64" stroke="#000" stroke-width="1.5" />
<line x1="681.10" y1="767.00" x2="683.60" y2="767.00" stroke="#000" stroke-width="1.5" />
<line x1="681.10" y1="765.50" x2="686.10" y2="765.50" stroke="#000" stroke-width="1.5" />
<line x1="681.10" y1="754.98" x2="683.60" y2="754.98" stroke="#000" stroke-width="1.5" />
<line x1="681.10" y1="748.45" x2="683.60" y2="748.45" stroke="#000" stroke-width="1.5" />
<line x1="681.10" y1="743.70" x2="683.60" y2="743.70" stroke="#000" stroke-width="1.5" />
<line x1="681.10" y1="739.96" x2="683.60" y2="739.96" stroke="#000" stroke-width="1.5" />
<line x1="681.10" y1="736.87" x2="683.60" y2="736.87" stroke="#000" stroke-width="1.5" />
<line x1="681.10" y1="734.25" x2="683.60" y2="734.25" stroke="#000" stroke-width="1.5" />
<line x1="681.10" y1="731.97" x2="683.60" y2="731.97" stroke="#000" stroke-width="1.5" />
<line x1="681.10" y1="729.95" x2="683.60" y2="729.95" stroke="#000" stroke-width="1.5" />
<line x1="681.10" y1="728.14" x2="683.60" y2="728.14" stroke="#000" stroke-width="1.5" />
<line x1="681.10" y1="726.50" x2="683.60" y2="726.50" stroke="#000" stroke-width="1.5" />
<line x1="681.10" y1="725.00" x2="686.10" y2="725.00" stroke="#000" stroke-width="1.5" />
<line x1="681.10" y1="714.48" x2="683.60" y2="714.48" stroke="#000" stroke-width="1.5" />
<line x1="681.10" y1="707.95" x2="683.60" y2="707.95" stroke="#000" stroke-width="1.5" />
<line x1="681.10" y1="703.20" x2="683.60" y2="703.20" stroke="#000" stroke-width="1.5" />
<line x1="681.10" y1="699.46" x2="683.60" y2="699.46" stroke="#000" stroke-width="1.5" />
<line x1="681.10" y1="696.37" x2="683.60" y2="696.37" stroke="#000" stroke-width="1.5" />
<line x1="681.10" y1="693.75" x2="683.60" y2="693.75" stroke="#000" stroke-width="1.5" />
<line x1="681.10" y1="691.47" x2="683.60" y2="691.47" stroke="#000" stroke-width="1.5" />
<line x1="681.10" y1="689.45" x2="683.60" y2="689.45" stroke="#000" stroke-width="1.5" />
<line x1="681.10" y1="687.64" x2="683.60" y2="687.64" stroke="#000" stroke-width="1.5" />
<line x1="681.10" y1="686.00" x2="683.60" y2="686.00" stroke="#000" stroke-width="1.5" />
<line x1="681.10" y1="684.50" x2="686.10" y2="684.50" stroke="#000" stroke-width="1.5" />
<line x1="681.10" y1="673.98" x2="683.60" y2="673.98" stroke="#000" stroke-width="1.5" />
<line x1="681.10" y1="667.45" x2="683.60" y2="667.45" stroke="#000" stroke-width="1.5" />
<line x1="681.10" y1="662.70" x2="683.60" y2="662.70" stroke="#000" stroke-width="1.5" />
<line x1="681.10" y1="658.96" x2="683.60" y2="658.96" stroke="#000" stroke-width="1.5" />
<line x1="681.10" y1="655.87" x2="683.60" y2="655.87" stroke="#000" stroke-width="1.5" />
<line x1="681.10" y1="653.25" x2="683.60" y2="653.25" stroke="#000" stroke-width="1.5" />
<line x1="681.10" y1="650.97" x2="683.60" y2="650.97" stroke="#000" stroke-width="1.5" />
<line x1="681.10" y1="648.95" x2="683.60" y2="648.95" stroke="#000" stroke-width="1.5" />
<line x1="681.10" y1="647.14" x2="683.60" y2="647.14" stroke="#000" stroke-width="1.5" />
<line x1="681.10" y1="645.50" x2="683.60" y2="645.50" stroke="#000" stroke-width="1.5" />
<line x1="681.10" y1="644.00" x2="686.10" y2="644.00" stroke="#000" stroke-width="1.5" />
<line x1="681.10" y1="633.48" x2="683.60" y2="633.48" stroke="#000" stroke-width="1.5" />
<line x1="681.10" y1="626.95" x2="683.60" y2="626.95" stroke="#000" stroke-width="1.5" />
<line x1="681.10" y1="622.20" x2="683.60" y2="622.20" stroke="#000" stroke-width="1.5" />
<line x1="681.10" y1="618.46" x2="683.60" y2="618.46" stroke="#000" stroke-width="1.5" />
<line x1="682.90" y1="794.00" x2="682.90" y2="791.50" stroke="#000" stroke-width="1.5" />
<line x1="695.37" y1="794.00" x2="695.37" y2="791.50" stroke="#000" stroke-width="1.5" />
<line x1="706.22" y1="794.00" x2="706.22" y2="791.50" stroke="#000" stroke-width="1.5" />
<line x1="715.83" y1="794.00" x2="715.83" y2="791.50" stroke="#000" stroke-width="1.5" />
<line x1="724.45" y1="794.00" x2="724.45" y2="791.50" stroke="#000" stroke-width="1.5" />
<line x1="732.26" y1="794.00" x2="732.26" y2="791.50" stroke="#000" stroke-width="1.5" />
<line x1="739.40" y1="794.00" x2="739.40" y2="789.00" stroke="#000" stroke-width="1.5" />
<line x1="789.43" y1="794.00" x2="789.43" y2="791.50" stroke="#000" stroke-width="1.5" />
<line x1="820.53" y1="794.00" x2="820.53" y2="791.50" stroke="#000" stroke-width="1.5" />
<line x1="843.15" y1="794.00" x2="843.15" y2="791.50" stroke="#000" stroke-width="1.5" />
<line x1="860.94" y1="794.00" x2="860.94" y2="791.50" stroke="#000" stroke-width="1.5" />
<line x1="875.60" y1="794.00" x2="875.60" y2="791.50" stroke="#000" stroke-width="1.5" />
<line x1="888.07" y1="794.00" x2="888.07" y2="791.50" stroke="#000" stroke-width="1.5" />
<line x1="898.92" y1="794.00" x2="898.92" y2="791.50" stroke="#000" stroke-width="1.5" />
<line x1="908.53" y1="794.00" x2="908.53" y2="791.50" stroke="#000" stroke-width="1.5" />
<line x1="917.15" y1="794.00" x2="917.15" y2="791.50" stroke="#000" stroke-width="1.5" />
<line x1="924.96" y1="794.00" x2="924.96" y2="791.50" stroke="#000" stroke-width="1.5" />
<line x1="932.10" y1="794.00" x2="932.10" y2="789.00" stroke="#000" stroke-width="1.5" />
<line x1="982.13" y1="794.00" x2="982.13" y2="791.50" stroke="#000" stroke-width="1.5" />
<line x1="1013.23" y1="794.00" x2="1013.23" y2="791.50" stroke="#000" stroke-width="1.5" />
<line x1="1035.85" y1="794.00" x2="1035.85" y2="791.50" stroke="#000" stroke-width="1.5" />
<line x1="1053.64" y1="794.00" x2="1053.64" y2="791.50" stroke="#000" stroke-width="1.5" />
<line x1="1068.30" y1="794.00" x2="1068.30" y2="791.50" stroke="#000" stroke-width="1.5" />
<line x1="1080.77" y1="794.00" x2="1080.77" y2="791.50" stroke="#000" stroke-width="1.5" />
<line x1="1091.62" y1="794.00" x2="1091.62" y2="791.50" stroke="#000" stroke-width="1.5" />
<line x1="1101.23" y1="794.00" x2="1101.23" y2="791.50" stroke="#000" stroke-width="1.5" />
<line x1="1109.85" y1="794.00" x2="1109.85" y2="791.50" stroke="#000" stroke-width="1.5" />
<line x1="1117.66" y1="794.00" x2="1117.66" y2="791.50" stroke="#000" stroke-width="1.5" />
<line x1="1124.80" y1="794.00" x2="1124.80" y2="789.00" stroke="#000" stroke-width="1.5" />
<circle cx="807.9" cy="696.4" r="6.2" fill="none" stroke="#6F98CE" stroke-width="2.1"/>
<circle cx="836.2" cy="681.0" r="6.2" fill="none" stroke="#6F98CE" stroke-width="2.1"/>
<circle cx="860.8" cy="696.4" r="6.2" fill="none" stroke="#6F98CE" stroke-width="2.1"/>
<circle cx="945.4" cy="659.3" r="6.2" fill="none" stroke="#6F98CE" stroke-width="2.1"/>
<circle cx="996.7" cy="650.1" r="6.2" fill="none" stroke="#6F98CE" stroke-width="2.1"/>
<circle cx="1015.1" cy="656.2" r="6.2" fill="none" stroke="#6F98CE" stroke-width="2.1"/>
<circle cx="1081.8" cy="640.8" r="6.2" fill="none" stroke="#6F98CE" stroke-width="2.1"/>
<circle cx="1112.5" cy="640.8" r="6.2" fill="none" stroke="#6F98CE" stroke-width="2.1"/>
<circle cx="702.3" cy="781.8" r="7.3" fill="url(#bigball)"/>
<text x="688.50" y="747.70" font-size="17.8" text-anchor="start" font-weight="bold" fill="#E0873C" >This</text>
<text x="688.00" y="771.60" font-size="17.8" text-anchor="start" font-weight="bold" fill="#E0873C" >Work</text>
<text x="746.80" y="787.00" font-size="18.3" text-anchor="start" font-weight="normal" fill="#000" >DOE target</text>
<text x="1092.00" y="674.60" font-size="17.6" text-anchor="start" font-weight="normal" fill="#6F98CE" >Refs</text>
<text x="739.40" y="816.60" font-size="18.3" text-anchor="middle" font-weight="normal" fill="#000" >1</text>
<text x="932.10" y="816.60" font-size="18.3" text-anchor="middle" font-weight="normal" fill="#000" >10</text>
<text x="1124.80" y="816.60" font-size="18.3" text-anchor="middle" font-weight="normal" fill="#000" >100</text>
<text x="673.30" y="772.10" font-size="18.3" text-anchor="end" font-weight="normal" fill="#000" >0.1</text>
<text x="673.30" y="731.60" font-size="18.3" text-anchor="end" font-weight="normal" fill="#000" >1</text>
<text x="673.30" y="691.10" font-size="18.3" text-anchor="end" font-weight="normal" fill="#000" >10</text>
<text x="673.30" y="650.60" font-size="18.3" text-anchor="end" font-weight="normal" fill="#000" >100</text>
<text x="859.5" y="847.7" font-size="20.6">D<tspan font-size="13.5" dy="5.7">V</tspan><tspan dy="-5.7"> (μV h</tspan><tspan font-size="13" dy="-8.5">-1</tspan><tspan dy="8.5">)</tspan></text>
<text transform="translate(629,705.4) rotate(-90)" font-size="21.4" text-anchor="middle">D<tspan font-size="14" dy="5">A</tspan><tspan dy="-5"> (10</tspan><tspan font-size="13" dy="-8.5">-5</tspan><tspan dy="8.5"> h</tspan><tspan font-size="13" dy="-8.5">-1</tspan><tspan dy="8.5">)</tspan></text>
<text x="599.30" y="594.00" font-size="24.5" text-anchor="start" font-weight="bold" fill="#000" >f</text>
</svg>
</body></html>
